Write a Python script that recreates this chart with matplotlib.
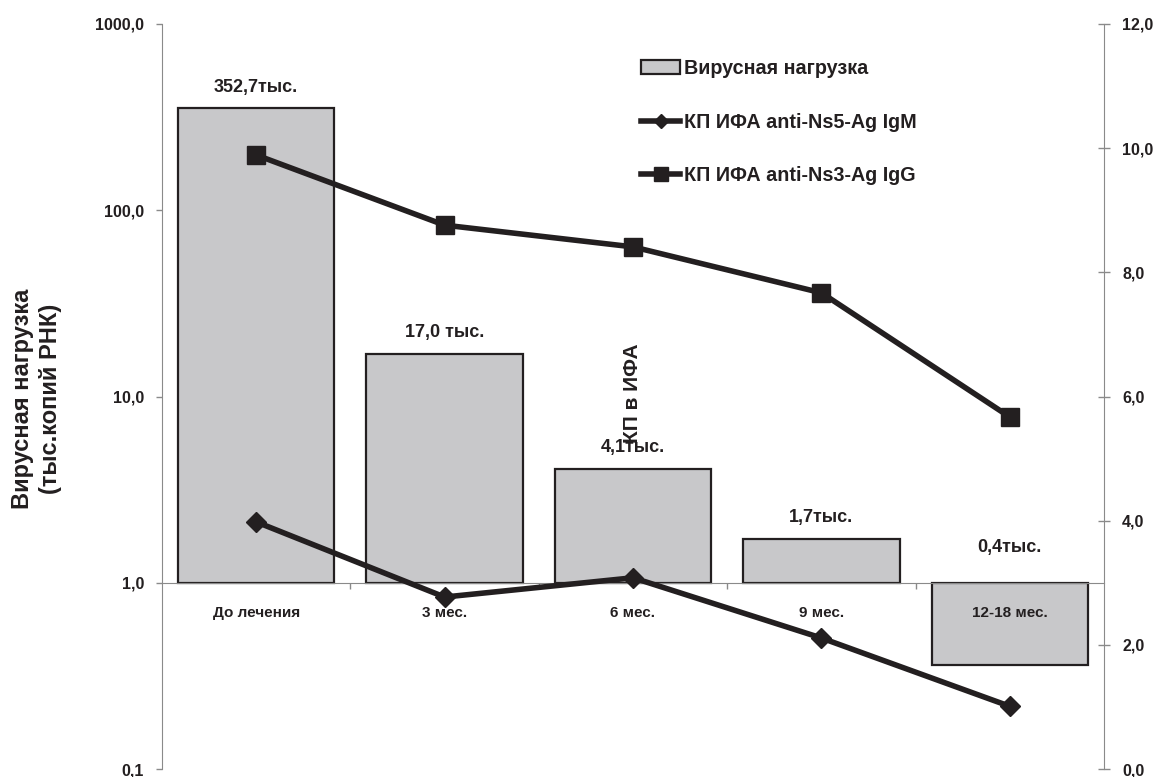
import matplotlib
matplotlib.use("Agg")
import matplotlib.pyplot as plt
from matplotlib.ticker import FixedLocator, FixedFormatter

# ---- data ----
categories = ["До лечения", "3 мес.", "6 мес.", "9 мес.", "12-18 мес."]
viral_load = [352.7, 17.0, 4.1, 1.72, 0.36]          # тыс. копий РНК
viral_labels = ["352,7тыс.", "17,0 тыс.", "4,1тыс.", "1,7тыс.", "0,4тыс."]
igm = [3.98, 2.77, 3.08, 2.11, 1.01]                 # КП ИФА anti-Ns5-Ag IgM
igg = [9.89, 8.76, 8.41, 7.67, 5.67]                 # КП ИФА anti-Ns3-Ag IgG
left_ticks = [0.1, 1, 10, 100, 1000]
left_ticklabels = ["0,1", "1,0", "10,0", "100,0", "1000,0"]
right_ticks = [0, 2, 4, 6, 8, 10, 12]
right_ticklabels = ["0,0", "2,0", "4,0", "6,0", "8,0", "10,0", "12,0"]

plt.rcParams['font.family'] = ['Liberation Sans', 'DejaVu Sans']
plt.rcParams['font.weight'] = 'bold'

W, H = 1154, 777
fig = plt.figure(figsize=(W / 100, H / 100), dpi=100)
ax = fig.add_axes([162 / W, 1 - 769 / H, (1104 - 162) / W, (769 - 24) / H])

grey = '#8a8a8a'
ink = '#231f20'
x = list(range(len(categories)))
base = 1.0
heights = [v - base for v in viral_load]
bars = ax.bar(x, heights, bottom=base, width=0.83, color='#c8c8ca',
              edgecolor=ink, linewidth=1.6, label='Вирусная нагрузка', zorder=1)

ax.set_yscale('log')
ax.set_ylim(0.1, 1000)
ax.set_xlim(-0.5, len(categories) - 0.5)
ax.yaxis.set_major_locator(FixedLocator(left_ticks))
ax.yaxis.set_major_formatter(FixedFormatter(left_ticklabels))
ax.yaxis.set_minor_locator(FixedLocator([]))
ax.tick_params(axis='y', which='major', direction='out', length=4, width=1,
               color=grey, pad=9, labelsize=11.5, labelcolor=ink)

ax.spines['top'].set_visible(False)
ax.spines['right'].set_visible(False)
ax.spines['left'].set_color(grey)
ax.spines['bottom'].set_color(grey)
ax.spines['bottom'].set_position(('data', 1.0))

ax.set_xticks(x)
ax.set_xticklabels(categories)
ax.tick_params(axis='x', which='major', length=0, pad=17, labelsize=11, labelcolor=ink)
ax.set_xticks([i + 0.5 for i in x[:-1]], minor=True)
ax.tick_params(axis='x', which='minor', direction='out', length=4, width=1, color=grey)

for xi, v, lab in zip(x, viral_load, viral_labels):
    top = max(v, base)
    off = 9 if v >= base else 19
    ax.annotate(lab, (xi, top), xytext=(0, off), textcoords='offset points',
                ha='center', va='bottom', fontsize=13, fontweight='bold', color=ink)

ax2 = ax.twinx()
ax2.set_ylim(0, 12)
ax2.yaxis.set_major_locator(FixedLocator(right_ticks))
ax2.yaxis.set_major_formatter(FixedFormatter(right_ticklabels))
ax2.tick_params(axis='y', direction='inout', length=8, width=1, color=grey,
                pad=9, labelsize=11.5, labelcolor=ink)
for s in ['top', 'left', 'bottom']:
    ax2.spines[s].set_visible(False)
ax2.spines['right'].set_color(grey)

ax2.plot(x, igm, color=ink, lw=4, marker='D', ms=10, label='КП ИФА anti-Ns5-Ag IgM')
ax2.plot(x, igg, color=ink, lw=4, marker='s', ms=13, label='КП ИФА anti-Ns3-Ag IgG')

h1, l1 = ax.get_legend_handles_labels()
h2, l2 = ax2.get_legend_handles_labels()
leg = ax2.legend(h1 + h2, l1 + l2, loc='upper left', bbox_to_anchor=(641 / W, 1 - 59 / H),
                 bbox_transform=fig.transFigure, frameon=False, borderpad=0,
                 borderaxespad=0, handlelength=2.0, handletextpad=0.2,
                 labelspacing=1.75, prop={'size': 14.2, 'weight': 'bold'},
                 markerscale=0.75)
for t in leg.get_texts():
    t.set_color(ink)

fig.text(23 / W, 1 - 399 / H, "Вирусная нагрузка", rotation=90, ha='center', va='center',
         fontsize=17, fontweight='bold', color=ink)
fig.text(51 / W, 1 - 399 / H, "(тыс.копий РНК)", rotation=90, ha='center', va='center',
         fontsize=17, fontweight='bold', color=ink)
fig.text(632 / W, 1 - 393 / H, "КП в ИФА", rotation=90, ha='center', va='center',
         fontsize=15, fontweight='bold', color=ink)

fig.savefig("out.png", dpi=100)
